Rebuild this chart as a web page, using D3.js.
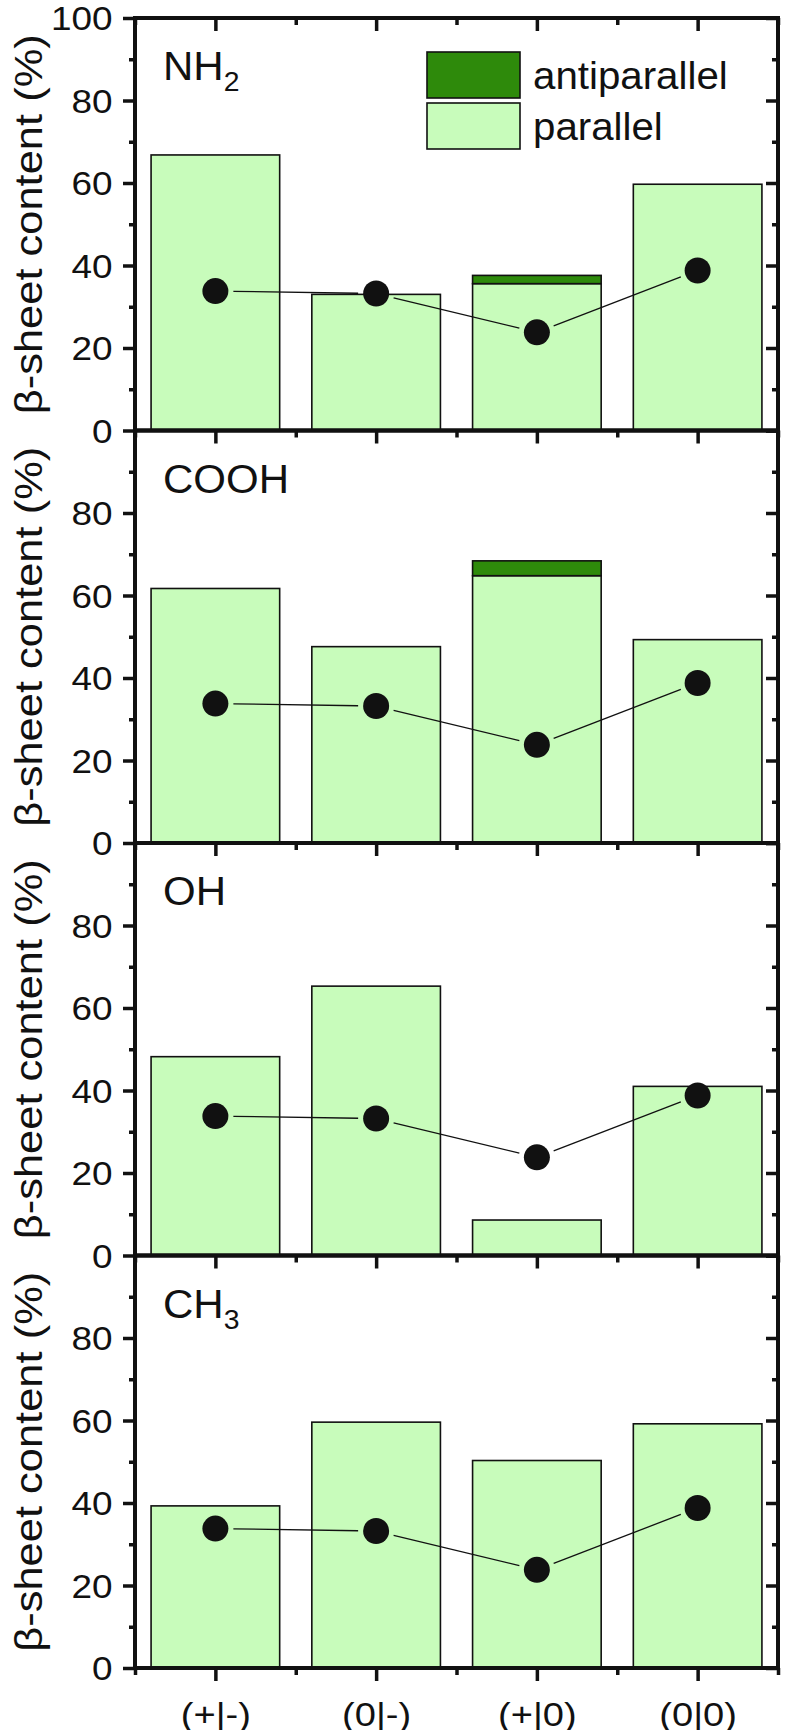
<!DOCTYPE html>
<html>
<head>
<meta charset="utf-8">
<script src="https://cdn.jsdelivr.net/npm/d3@7"></script>
<style>
  body { margin: 0; background: #fff; }
  text { font-family: "Liberation Sans", Arial, sans-serif; fill: #111; }
</style>
</head>
<body>
<div id="chart"></div>
<script>
// categories on the x axis
var categories = ["(+|-)", "(0|-)", "(+|0)", "(0|0)"];

// panel names (base, subscript)
var panelNames = [["NH", "2"], ["COOH", ""], ["OH", ""], ["CH", "3"]];

// beta-sheet content, parallel / antiparallel part, per panel
var parallelNH2 = [66.8, 33.0, 35.6, 59.7];
var antiparallelNH2 = [0, 0, 2.0, 0];
var parallelCOOH = [61.7, 47.6, 64.8, 49.3];
var antiparallelCOOH = [0, 0, 3.6, 0];
var parallelOH = [48.2, 65.3, 8.6, 41.0];
var antiparallelOH = [0, 0, 0, 0];
var parallelCH3 = [39.3, 59.6, 50.3, 59.2];
var antiparallelCH3 = [0, 0, 0, 0];

// black dots (same reference in every panel)
var dotValues = [33.8, 33.2, 23.8, 38.8];

var yMajor = [0, 20, 40, 60, 80, 100];
var yMinor = [10, 30, 50, 70, 90];
var xMinor = [0.5, 1.5, 2.5, 3.5, 4.5];

var panels = [
  { name: panelNames[0], par: parallelNH2, anti: antiparallelNH2 },
  { name: panelNames[1], par: parallelCOOH, anti: antiparallelCOOH },
  { name: panelNames[2], par: parallelOH, anti: antiparallelOH },
  { name: panelNames[3], par: parallelCH3, anti: antiparallelCH3 }
];

var width = 785, height = 1730;
var left = 135, right = 778, top0 = 18, panelH = 412.5;
var lightGreen = "#c8fcbb", darkGreen = "#2e8a0b";
var sx = 1.12; // horizontal stretch of the lettering

var svg = d3.select("#chart").append("svg")
    .attr("width", width)
    .attr("height", height);

var x = d3.scaleLinear().domain([0.5, 4.5]).range([left, right]);
var barW = x(1.8) - x(1);

panels.forEach(function(p, k) {
  var y0 = top0 + k * panelH;
  var y = d3.scaleLinear().domain([0, 100]).range([y0 + panelH, y0]);
  var g = svg.append("g");

  var rows = p.par.map(function(v, i) { return { i: i, par: v, anti: p.anti[i] }; });

  // parallel bars
  g.selectAll(".par")
    .data(rows)
    .enter().append("rect")
    .attr("class", "par")
    .attr("x", function(d) { return x(d.i + 1) - barW / 2; })
    .attr("width", barW)
    .attr("y", function(d) { return y(d.par); })
    .attr("height", function(d) { return y(0) - y(d.par); })
    .attr("fill", lightGreen)
    .attr("stroke", "#111")
    .attr("stroke-width", 1.6);

  // antiparallel part on top
  g.selectAll(".anti")
    .data(rows.filter(function(d) { return d.anti > 0; }))
    .enter().append("rect")
    .attr("class", "anti")
    .attr("x", function(d) { return x(d.i + 1) - barW / 2; })
    .attr("width", barW)
    .attr("y", function(d) { return y(d.par + d.anti); })
    .attr("height", function(d) { return y(d.par) - y(d.par + d.anti); })
    .attr("fill", darkGreen)
    .attr("stroke", "#111")
    .attr("stroke-width", 1.6);

  // connecting line, with a gap around every dot
  var pts = dotValues.map(function(v, i) { return [x(i + 1), y(v)]; });
  for (var i = 0; i < pts.length - 1; i++) {
    var a = pts[i], b = pts[i + 1];
    var dx = b[0] - a[0], dy = b[1] - a[1], len = Math.sqrt(dx * dx + dy * dy);
    var ux = dx / len, uy = dy / len, gap = 18;
    g.append("line")
      .attr("x1", a[0] + ux * gap).attr("y1", a[1] + uy * gap)
      .attr("x2", b[0] - ux * gap).attr("y2", b[1] - uy * gap)
      .attr("stroke", "#111")
      .attr("stroke-width", 1.3);
  }
  g.selectAll(".dot")
    .data(dotValues)
    .enter().append("circle")
    .attr("cx", function(d, i) { return x(i + 1); })
    .attr("cy", function(d) { return y(d); })
    .attr("r", 13)
    .attr("fill", "#111");

  // frame
  g.append("rect")
    .attr("x", left).attr("y", y(100))
    .attr("width", right - left).attr("height", y(0) - y(100))
    .attr("fill", "none")
    .attr("stroke", "#111")
    .attr("stroke-width", 4);

  // left axis with labels
  var leftAx = g.append("g")
    .attr("transform", "translate(" + left + ",0)")
    .call(d3.axisLeft(y)
      .tickValues(k === 0 ? yMajor : yMajor.slice(0, 5))
      .tickSize(12).tickSizeOuter(0).tickPadding(8)
      .tickFormat(d3.format("d")));
  leftAx.selectAll("text")
    .style("font-size", "33px")
    .attr("transform", "scale(" + sx + ",1)")
    .attr("dy", "0.36em");
  g.append("g")
    .attr("transform", "translate(" + left + ",0)")
    .call(d3.axisLeft(y).tickValues(yMinor).tickSize(6).tickSizeOuter(0).tickFormat(""));

  // right axis, ticks inside
  g.append("g")
    .attr("transform", "translate(" + right + ",0)")
    .call(d3.axisLeft(y).tickValues(yMajor).tickSize(12).tickSizeOuter(0).tickFormat(""));
  g.append("g")
    .attr("transform", "translate(" + right + ",0)")
    .call(d3.axisLeft(y).tickValues(yMinor).tickSize(6).tickSizeOuter(0).tickFormat(""));

  // top axis (inside) for first panel, bottom axis (outside) for all
  if (k === 0) {
    g.append("g")
      .attr("transform", "translate(0," + y(100) + ")")
      .call(d3.axisBottom(x).tickValues([1, 2, 3, 4]).tickSize(13).tickSizeOuter(0).tickFormat(""));
    g.append("g")
      .attr("transform", "translate(0," + y(100) + ")")
      .call(d3.axisBottom(x).tickValues(xMinor).tickSize(7).tickSizeOuter(0).tickFormat(""));
  }
  var bottomAx = g.append("g")
    .attr("transform", "translate(0," + y(0) + ")")
    .call(d3.axisBottom(x).tickValues([1, 2, 3, 4]).tickSize(13).tickSizeOuter(0)
      .tickPadding(21)
      .tickFormat(function(d) { return k === 3 ? categories[d - 1] : ""; }));
  bottomAx.selectAll("text")
    .style("font-size", "34px")
    .attr("transform", "scale(" + sx + ",1)")
    .attr("dy", "0.71em");
  g.append("g")
    .attr("transform", "translate(0," + y(0) + ")")
    .call(d3.axisBottom(x).tickValues(xMinor).tickSize(7).tickSizeOuter(0).tickFormat(""));

  // panel name
  var nm = g.append("text")
    .attr("transform", "translate(" + 163 + "," + (y0 + 62) + ") scale(1.05,1)")
    .style("font-size", "40px");
  nm.append("tspan").text(p.name[0]);
  if (p.name[1]) {
    nm.append("tspan").attr("dy", 11).style("font-size", "27px").text(p.name[1]);
  }

  // y axis title
  svg.append("text")
    .attr("transform", "translate(" + 42 + "," + (y0 + panelH / 2) + ") rotate(-90)")
    .attr("text-anchor", "middle")
    .attr("textLength", 380)
    .attr("lengthAdjust", "spacingAndGlyphs")
    .style("font-size", "39px")
    .text("\u03b2-sheet content (%)");
});

svg.selectAll(".domain").remove();
svg.selectAll(".tick line").attr("stroke", "#111").attr("stroke-width", 3.5);

// legend
var legend = [["antiparallel", darkGreen], ["parallel", lightGreen]];
var lg = svg.append("g").attr("transform", "translate(427,52)");
lg.selectAll("rect")
  .data(legend)
  .enter().append("rect")
  .attr("x", 0)
  .attr("y", function(d, i) { return i * 51; })
  .attr("width", 93)
  .attr("height", 46)
  .attr("fill", function(d) { return d[1]; })
  .attr("stroke", "#111")
  .attr("stroke-width", 1.6);
lg.selectAll("text")
  .data(legend)
  .enter().append("text")
  .attr("transform", function(d, i) { return "translate(106," + (i * 51 + 37) + ") scale(1.06,1)"; })
  .style("font-size", "38px")
  .text(function(d) { return d[0]; });
</script>
</body>
</html>
